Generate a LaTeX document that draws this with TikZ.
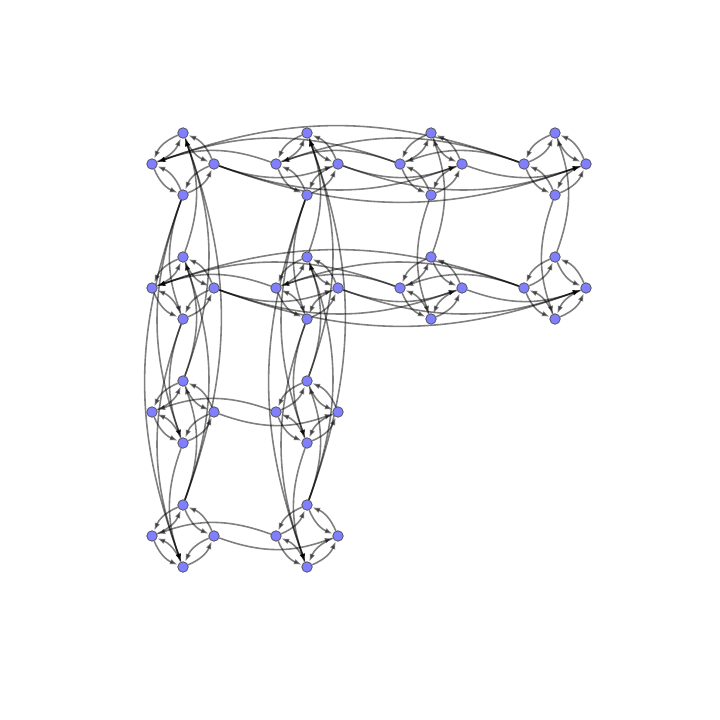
\documentclass[tikz,border=0pt]{standalone}
\usepackage{tikz}
\usetikzlibrary{arrows.meta,backgrounds}
\definecolor{vfill}{RGB}{128,128,255}

\begin{document}
\begin{tikzpicture}[x=0.02cm, y=-0.02cm,
    vtx/.style={circle, draw=black!70, line width=0.4pt, fill=vfill, minimum size=0.21cm, inner sep=0pt},
    edge/.style={draw=black, draw opacity=0.5, fill opacity=0.5, line width=0.9pt, -{Latex[length=1.6mm,width=1.15mm]}}]
\useasboundingbox (0,0) rectangle (720,720);
\foreach \c/\r in {1/1,2/1,3/1,4/1,1/2,2/2,3/2,4/2,1/3,2/3,1/4,2/4} {
    \node[vtx] (t\c\r) at ({183+124*(\c-1)},{133+124*(\r-1)}) {};
    \node[vtx] (l\c\r) at ({152+124*(\c-1)},{164+124*(\r-1)}) {};
    \node[vtx] (r\c\r) at ({214+124*(\c-1)},{164+124*(\r-1)}) {};
    \node[vtx] (b\c\r) at ({183+124*(\c-1)},{195+124*(\r-1)}) {};
}
\begin{scope}[on background layer]
\foreach \c/\r in {1/1,2/1,3/1,4/1,1/2,2/2,3/2,4/2,1/3,2/3,1/4,2/4}
    \foreach \a/\b in {t/l,t/r,b/l,b/r} {
        \draw[edge] (\a\c\r) to[bend right=22] (\b\c\r);
        \draw[edge] (\b\c\r) to[bend right=22] (\a\c\r);
    }
\foreach \r/\i/\j in {1/1/2,1/1/3,1/1/4,1/2/3,1/2/4,1/3/4,2/1/2,2/1/3,2/1/4,2/2/3,2/2/4,2/3/4,3/1/2,4/1/2} {
    \draw[edge] (r\i\r) to[bend right=20] (r\j\r);
    \draw[edge] (l\j\r) to[bend right=20] (l\i\r);
}
\foreach \c/\i/\j in {1/1/2,1/1/3,1/1/4,1/2/3,1/2/4,1/3/4,2/1/2,2/1/3,2/1/4,2/2/3,2/2/4,2/3/4,3/1/2,4/1/2} {
    \draw[edge] (t\c\j) to[bend right=20] (t\c\i);
    \draw[edge] (b\c\i) to[bend right=20] (b\c\j);
}
\end{scope}
\end{tikzpicture}
\end{document}
